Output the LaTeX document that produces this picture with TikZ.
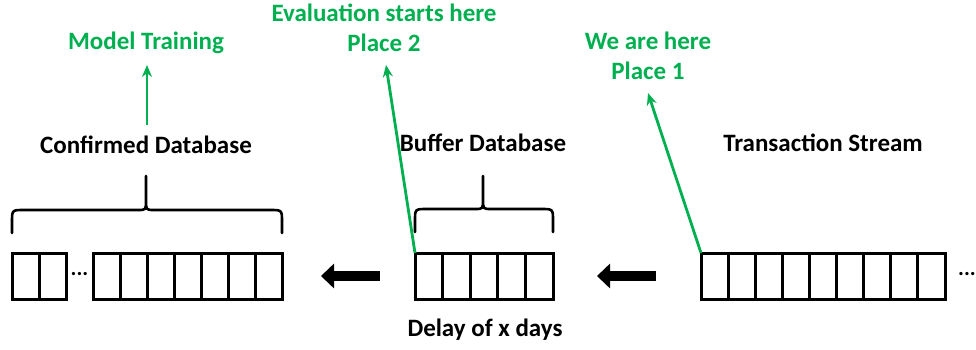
\documentclass[tikz,border=0pt]{standalone}
\usepackage{fontspec}
\setmainfont{Carlito}
\usetikzlibrary{arrows.meta}
\definecolor{grn}{RGB}{0,176,80}
\tikzset{
  cellbox/.style={draw=black, line width=3pt, minimum height=46pt, anchor=north west, inner sep=0pt, outer sep=0pt},
  divider/.style={line width=3pt},
  bracepath/.style={line width=2.6pt, line cap=round},
  label/.style={font=\fontsize{25}{30}\selectfont\bfseries, align=center, inner sep=0pt},
  glabel/.style={label, text=grn},
  gline/.style={draw=grn, line width=2.8pt},
  garrow/.style={gline, -{Stealth[length=12pt,width=10pt]}},
  fatarrow/.style={line width=10pt, -{Triangle[length=13pt,width=24pt]}},
  dots/.style={font=\fontsize{22}{22}\selectfont\bfseries, inner sep=0pt}
}
\begin{document}
\begin{tikzpicture}[x=1pt,y=-1pt]
\useasboundingbox (0,0) rectangle (976,349);
% boxes
\node[cellbox, minimum width=54pt] (c1) at (12,253) {};
\node[cellbox, minimum width=189pt] (c2) at (93,253) {};
\node[cellbox, minimum width=138pt] (buf) at (415,253) {};
\node[cellbox, minimum width=244pt] (ts) at (701,253) {};
\foreach \x in {39} \draw[divider] (\x,253) -- (\x,299);
\foreach \x in {120,147,174,201,228,255} \draw[divider] (\x,253) -- (\x,299);
\foreach \x in {442.6,470.2,497.8,525.4} \draw[divider] (\x,253) -- (\x,299);
\foreach \x in {728.1,755.2,782.3,809.4,836.6,863.7,890.8,917.9} \draw[divider] (\x,253) -- (\x,299);
\node[dots] (d1) at (79.5,274) {...};
\node[dots] (d2) at (967,274) {...};
% braces
\draw[bracepath] (12,233) -- (12,222) .. controls (12,210) .. (24,210) -- (138,210) .. controls (146,210) .. (146,200) -- (146,176)
  (146,200) .. controls (146,210) .. (154,210) -- (270,210) .. controls (282,210) .. (282,222) -- (282,233);
\draw[bracepath] (415,232) -- (415,221) .. controls (415,209) .. (427,209) -- (475,209) .. controls (483,209) .. (483,199) -- (483,176)
  (483,199) .. controls (483,209) .. (491,209) -- (541,209) .. controls (553,209) .. (553,221) -- (553,232);
% fat arrows
\coordinate (a1s) at (380,276); \coordinate (a1e) at (321,276);
\coordinate (a2s) at (656,276); \coordinate (a2e) at (597,276);
\draw[fatarrow] (a1s) -- (a1e);
\draw[fatarrow] (a2s) -- (a2e);
% labels
\node[label] (cdb) at (146,145) {Confirmed Database};
\node[label] (bdb) at (483,143) {Buffer Database};
\node[label] (tsl) at (823,143) {Transaction Stream};
\node[label] (delay) at (485,330) {Delay of x days};
\node[glabel] (train) at (146,43) {Model Training};
\node[glabel] (eval) at (384,28) {Evaluation starts here\\Place 2};
\node[glabel] (here) at (648,56) {We are here\\Place 1};
% green arrows
\coordinate (t1) at (147,65); \coordinate (t1s) at (147,125);
\coordinate (t2) at (386,65);
\coordinate (t3) at (648,93);
\draw[garrow] (t1s) -- (t1);
\draw[garrow] (buf.north west) -- (t2);
\draw[garrow] (ts.north west) -- (t3);
\end{tikzpicture}
\end{document}
